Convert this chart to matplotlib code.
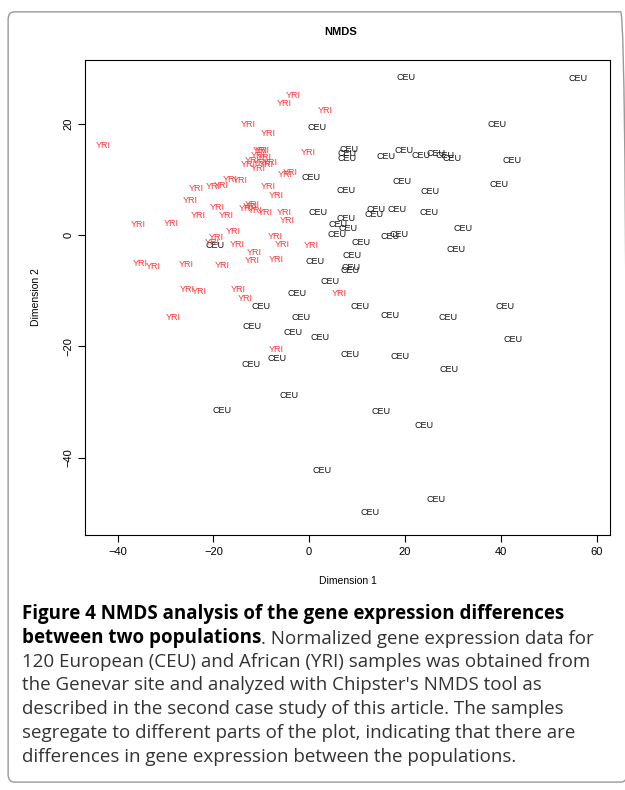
import matplotlib.pyplot as plt
import matplotlib.patches as patches
import numpy as np

# label positions read in pixels from the reference, converted to data units
yri_px = [(103,145),(293,95),(284,103),(325,110),(248,124),(268,133),(262,150),(258,155),
          (252,160),(260,162),(266,164),(248,164),(258,168),(308,152),(290,172),(285,174),
          (196,188),(230,179),(240,180),(221,185),(213,186),(268,186),(276,195),(190,200),
          (217,207),(198,215),(226,215),(250,206),(255,210),(252,204),(265,212),(246,208),
          (284,212),(287,220),(138,224),(171,223),(233,231),(216,237),(212,242),(237,244),
          (275,236),(282,244),(311,245),(254,253),(252,261),(276,260),(222,266),(186,265),
          (140,264),(153,267),(187,290),(199,292),(238,290),(245,299),(173,318),(276,350),
          (339,294),(260,150),(264,157),(270,162)]
ceu_px = [(406,77),(578,78),(497,124),(317,127),(349,149),(347,153),(347,158),(386,156),
          (404,150),(421,155),(436,153),(445,155),(452,158),(512,160),(311,177),(402,181),
          (499,184),(346,190),(430,191),(318,212),(346,218),(374,214),(397,209),(376,209),
          (429,212),(338,224),(348,228),(337,234),(399,234),(390,236),(361,242),(463,228),
          (456,249),(215,245),(315,262),(352,256),(351,268),(350,271),(330,282),(297,294),
          (360,307),(390,316),(448,318),(505,307),(513,340),(261,307),(301,318),(252,327),
          (293,333),(320,338),(350,355),(400,357),(449,370),(277,359),(251,365),(289,396),
          (222,411),(381,412),(424,426),(322,471),(436,500),(370,513)]

yri_x = [(p[0] - 309) / 4.79 for p in yri_px]
yri_y = [(235 - p[1]) / 5.58 for p in yri_px]
ceu_x = [(p[0] - 309) / 4.79 for p in ceu_px]
ceu_y = [(235 - p[1]) / 5.58 for p in ceu_px]

plt.rcParams['font.family'] = ['Liberation Sans', 'DejaVu Sans']
fig = plt.figure(figsize=(6.25, 7.9), dpi=100)
fig.patches.append(patches.FancyBboxPatch((0.013, 0.01), 0.99, 0.975, boxstyle='round,pad=0,rounding_size=0.01',
                                          transform=fig.transFigure, fill=False, edgecolor='#999999', lw=1))
ax = fig.add_axes([0.136, 0.323, 0.84, 0.601])
for x, y in zip(ceu_x, ceu_y):
    ax.text(x, y, 'CEU', fontsize=6.5, color='#111111', ha='center', va='center')
for x, y in zip(yri_x, yri_y):
    ax.text(x, y, 'YRI', fontsize=6.5, color='#ff3333', ha='center', va='center')
ax.set_xlim(-46.8, 62.8)
ax.set_ylim(-53.8, 31.4)
ax.set_xticks([-40, -20, 0, 20, 40, 60])
ax.set_yticks([-40, -20, 0, 20])
ax.tick_params(labelsize=8, length=5)
for lab in ax.get_yticklabels():
    lab.set_rotation(90)
    lab.set_va('center')
ax.set_xlabel('Dimension 1', fontsize=7.5, labelpad=14)
ax.set_ylabel('Dimension 2', fontsize=7.5, labelpad=16)
fig.text(0.545, 0.96, 'NMDS', fontsize=8, fontweight='bold', ha='center', va='center')

cf = ['Open Sans', 'DejaVu Sans']
fs = 13.5
fig.text(0.035, 0.216, 'Figure 4 NMDS analysis of the gene expression differences',
         fontsize=fs, fontweight='bold', family=cf, va='baseline')
b = fig.text(0.035, 0.186, 'between two populations', fontsize=fs, fontweight='bold', family=cf, va='baseline')
fig.canvas.draw()
ax.annotate('. Normalized gene expression data for', xy=(1, 0), xycoords=b, fontsize=fs,
            family=cf, va='bottom', ha='left', annotation_clip=False, color='#333333')
lines = ["120 European (CEU) and African (YRI) samples was obtained from",
         "the Genevar site and analyzed with Chipster's NMDS tool as",
         "described in the second case study of this article. The samples",
         "segregate to different parts of the plot, indicating that there are",
         "differences in gene expression between the populations."]
for i, s in enumerate(lines):
    fig.text(0.035, 0.156 - i * 0.030, s, fontsize=fs, family=cf, va='baseline', color='#333333')
fig.savefig('out.png', dpi=100)
